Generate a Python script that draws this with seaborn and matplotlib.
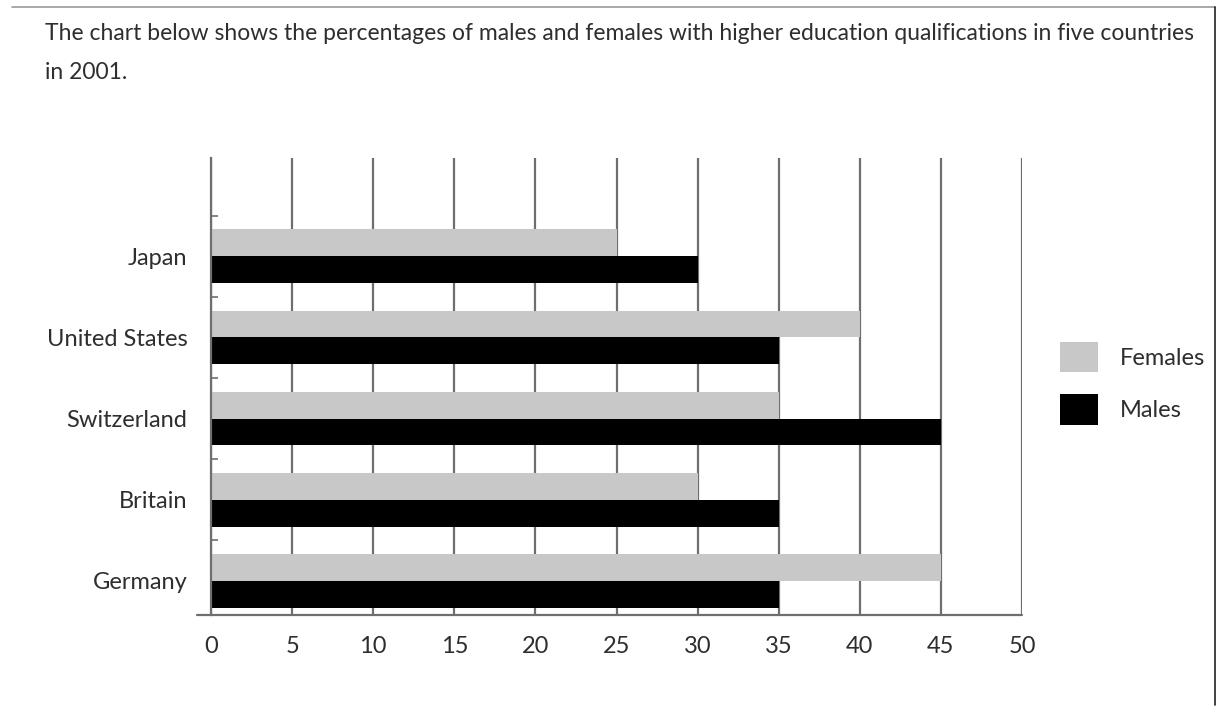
import matplotlib
matplotlib.use("Agg")
import matplotlib.pyplot as plt
from matplotlib.lines import Line2D
from matplotlib.patches import Patch
import pandas as pd
import seaborn as sns

# --- data ---
countries = ["Japan", "United States", "Switzerland", "Britain", "Germany"]
females = [25, 40, 35, 30, 45]
males = [30, 35, 45, 35, 35]
x_ticks = [0, 5, 10, 15, 20, 25, 30, 35, 40, 45, 50]
title = ("The chart below shows the percentages of males and females with higher "
         "education qualifications in five countries\nin 2001.")

df = pd.DataFrame({
    "country": countries * 2,
    "value": females + males,
    "sex": ["Females"] * len(countries) + ["Males"] * len(countries),
})

GRID = "#6e6e6e"
TEXT = "#2e2e2e"
palette = {"Females": "#c8c8c8", "Males": "#000000"}

sns.set_theme(style="white")
plt.rcParams["font.family"] = ["Lato", "DejaVu Sans"]

fig = plt.figure(figsize=(12.18, 7.24), dpi=100)
ax = fig.add_axes([211 / 1218, 1 - 615 / 724, 811 / 1218, 457 / 724])

sns.barplot(data=df, x="value", y="country", hue="sex", orient="h",
            palette=palette, width=0.66, saturation=1, linewidth=0,
            legend=False, ax=ax)

ax.set_xlim(0, 50)
ax.set_ylim(4.42, -1.21)
ax.set_xticks(x_ticks)
ax.set_xticklabels([str(t) for t in x_ticks])
ax.set_xlabel("")
ax.set_ylabel("")

ax.set_axisbelow(True)
ax.xaxis.grid(True, color=GRID, linewidth=1.6)
ax.yaxis.grid(False)
for side in ["top", "right", "bottom"]:
    ax.spines[side].set_visible(False)
ax.spines["left"].set_color(GRID)
ax.spines["left"].set_linewidth(1.6)
# bottom baseline with a short stub left of zero
ax.plot([-0.017, 1.0], [0, 0], transform=ax.transAxes, color=GRID,
        linewidth=1.6, clip_on=False)

ax.tick_params(axis="x", length=0, pad=15, labelsize=17, labelcolor=TEXT)
ax.tick_params(axis="y", which="major", length=0, pad=17, labelsize=17,
               labelcolor=TEXT)
ax.set_yticks([-0.5, 0.5, 1.5, 2.5, 3.5], minor=True)
ax.tick_params(axis="y", which="minor", direction="in", length=5,
               width=1.2, color=GRID, left=True)

handles = [Patch(facecolor=palette[k], edgecolor="none") for k in ["Females", "Males"]]
fig.legend(handles, ["Females", "Males"], loc="upper left",
           bbox_to_anchor=(1060 / 1218, 1 - 342 / 724), frameon=False,
           fontsize=17, handlelength=1.6, handleheight=1.6, labelspacing=0.93,
           handletextpad=0.95, borderpad=0, borderaxespad=0,
           labelcolor=TEXT)

fig.text(45 / 1218, 1 - 23 / 724, title, ha="left", va="top", fontsize=16.5,
         color=TEXT, linespacing=2.05)

# screenshot frame lines
fig.add_artist(Line2D([12 / 1218, 1215 / 1218], [1 - 7 / 724, 1 - 7 / 724],
                      color="#9a9a9a", linewidth=1.2))
fig.add_artist(Line2D([1215 / 1218, 1215 / 1218], [1 - 7 / 724, 1 - 705 / 724],
                      color="#222222", linewidth=1.2))

fig.savefig("out.png", dpi=100)
